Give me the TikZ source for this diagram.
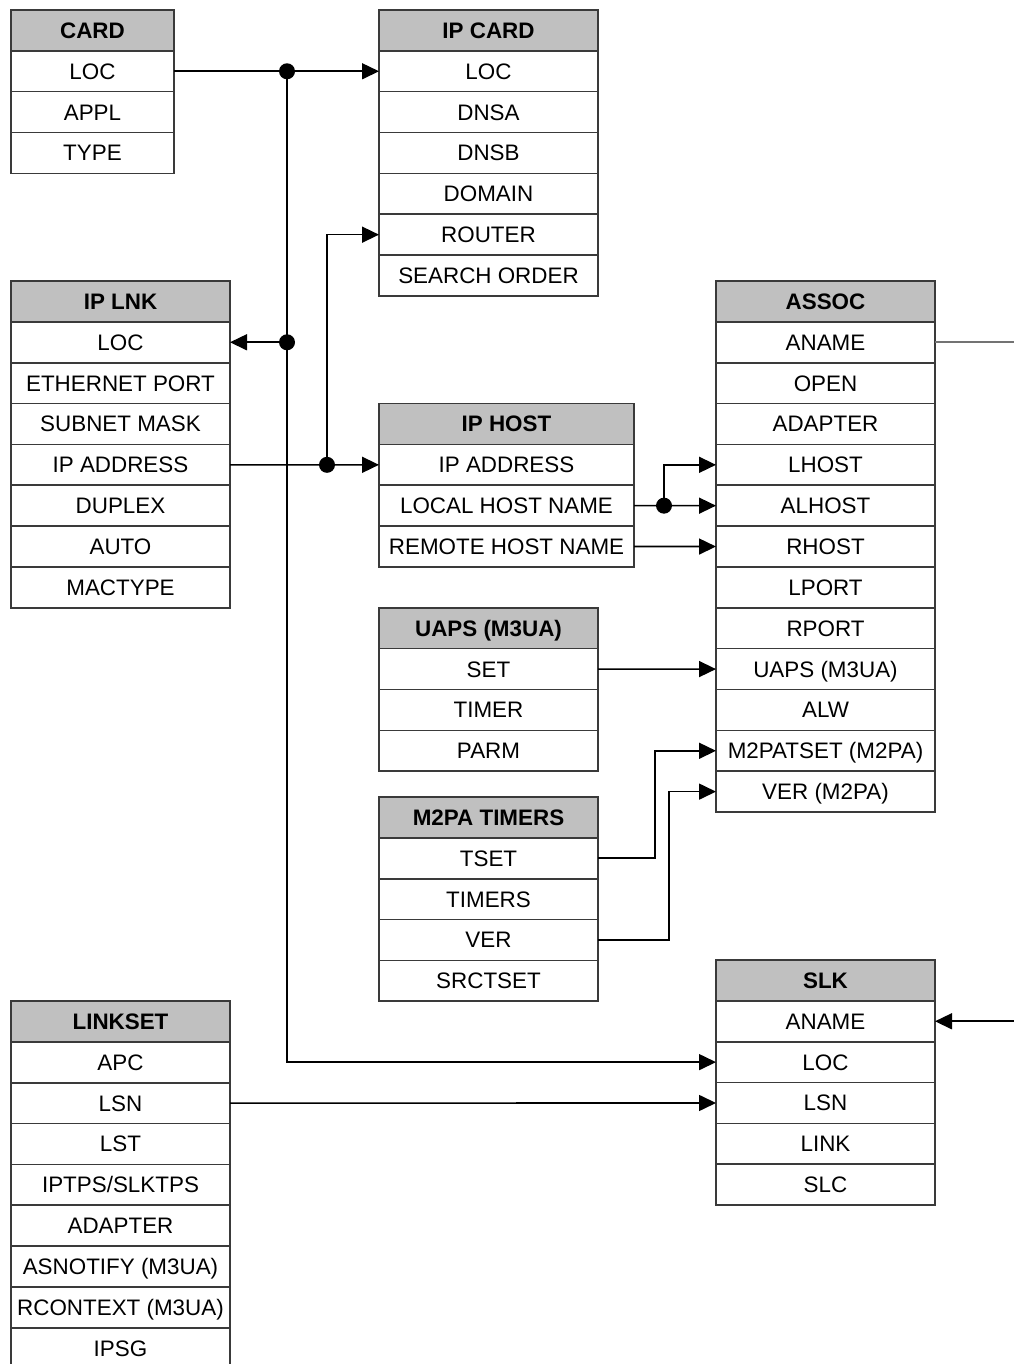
\documentclass[tikz,border=0pt]{standalone}
\usepackage{fontspec}
\setmainfont{Liberation Sans}
\usetikzlibrary{arrows.meta}
\definecolor{hdrgray}{HTML}{C0C0C0}
\definecolor{bordergray}{HTML}{3A3A3A}
\tikzset{
  cell/.style={draw=bordergray, line width=1.6pt, fill=white, inner sep=0pt, outer sep=0pt,
    minimum height=40.85pt, text height=16pt, text depth=0pt, font=\fontsize{22.4}{24}\selectfont},
  hdr/.style={cell, fill=hdrgray, font=\fontsize{22.4}{24}\selectfont\bfseries},
  conn/.style={line width=1.6pt, draw=black},
  arr/.style={-{Triangle[length=17pt,width=16pt]}},
  junction/.style={fill=black},
}
\newcommand\mytable[6]{%
  \node[hdr, minimum width={(#3-#2)*1pt}] (#1-0) at ({(#2+#3)/2},{#4+20.425}) {#5};
  \foreach \t [count=\i] in {#6} {
    \node[cell, minimum width={(#3-#2)*1pt}] (#1-\i) at ({(#2+#3)/2},{#4+20.425+\i*40.85}) {\t};
  }
}
\begin{document}
\begin{tikzpicture}[x=1pt,y=-1pt]
\useasboundingbox (0,0) rectangle (1013,1364);
\fill[white] (0,0) rectangle (1013,1364);

\mytable{card}{11}{174}{10}{CARD}{LOC,APPL,TYPE}
\mytable{ipcard}{379}{598}{10}{IP CARD}{LOC,DNSA,DNSB,DOMAIN,ROUTER,SEARCH ORDER}
\mytable{iplnk}{11}{230}{281}{IP LNK}{LOC,ETHERNET PORT,SUBNET MASK,IP ADDRESS,DUPLEX,AUTO,MACTYPE}
\mytable{assoc}{716}{935}{281}{ASSOC}{ANAME,OPEN,ADAPTER,LHOST,ALHOST,RHOST,LPORT,RPORT,UAPS (M3UA),ALW,M2PATSET (M2PA),VER (M2PA)}
\mytable{iphost}{379}{634}{403.55}{IP HOST}{IP ADDRESS,LOCAL HOST NAME,REMOTE HOST NAME}
\mytable{uaps}{379}{598}{607.8}{UAPS (M3UA)}{SET,TIMER,PARM}
\mytable{m2pa}{379}{598}{797}{M2PA TIMERS}{TSET,TIMERS,VER,SRCTSET}
\mytable{slk}{716}{935}{960}{SLK}{ANAME,LOC,LSN,LINK,SLC}
\mytable{linkset}{11}{230}{1001}{LINKSET}{APC,LSN,LST,IPTPS/SLKTPS,ADAPTER,ASNOTIFY (M3UA),RCONTEXT (M3UA),IPSG}

% CARD LOC -> IP CARD LOC, IP LNK LOC, SLK LOC
\path (card-1.east) -- ++(113,0) coordinate (j1);
\path (j1 |- iplnk-1.east) coordinate (j2);
\draw[conn, arr] (card-1.east) -- (ipcard-1.west);
\draw[conn, arr] (j1) |- (slk-2.west);
\draw[conn, arr] (j2) -- (iplnk-1.east);
\fill[junction] (j1) circle (8pt);
\fill[junction] (j2) circle (8pt);

% IP LNK IP ADDRESS -> IP HOST IP ADDRESS, IP CARD ROUTER
\path (iplnk-4.east) -- ++(97,0) coordinate (j3);
\draw[conn, arr] (iplnk-4.east) -- (iphost-1.west);
\draw[conn, arr] (j3) |- (ipcard-5.west);
\fill[junction] (j3) circle (8pt);

% IP HOST LOCAL HOST NAME -> ALHOST, LHOST
\path (iphost-2.east) -- ++(30,0) coordinate (j4);
\draw[conn, arr] (iphost-2.east) -- (assoc-5.west);
\draw[conn, arr] (j4) |- (assoc-4.west);
\fill[junction] (j4) circle (8pt);

% REMOTE HOST NAME -> RHOST
\draw[conn, arr] (iphost-3.east) -- (assoc-6.west);

% UAPS SET -> UAPS (M3UA)
\draw[conn, arr] (uaps-1.east) -- (assoc-9.west);

% M2PA TSET -> M2PATSET ; VER -> VER (M2PA)
\draw[conn, arr] (m2pa-1.east) -- ++(57,0) |- (assoc-11.west);
\draw[conn, arr] (m2pa-3.east) -- ++(71,0) |- (assoc-12.west);

% ASSOC ANAME -> SLK ANAME (route leaves the picture on the right)
\path (assoc-1.east) -- ++(110,0) coordinate (offa);
\path (offa |- slk-1.east) coordinate (offb);
\draw[conn, draw=black!55] (assoc-1.east) -- (offa) -- (offb);
\draw[conn, arr] (offb) -- (slk-1.east);

% LINKSET LSN -> SLK LSN
\draw[conn, arr] (linkset-2.east) -- (slk-3.west);
\end{tikzpicture}
\end{document}
